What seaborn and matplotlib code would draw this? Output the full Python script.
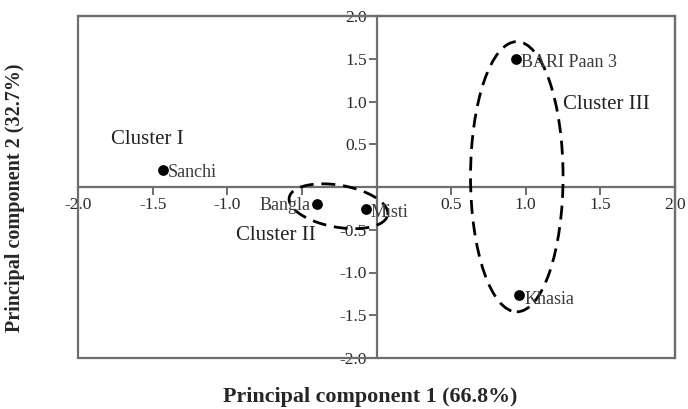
import matplotlib
matplotlib.use("Agg")
import matplotlib.pyplot as plt
from matplotlib.patches import Ellipse, Rectangle
import numpy as np
import seaborn as sns
import pandas as pd

# PCA scores of the betel leaf varieties
varieties = ["Sanchi", "Bangla", "Misti", "BARI Paan 3", "Khasia"]
pc1 = [-1.43, -0.40, -0.07, 0.935, 0.955]
pc2 = [0.20, -0.20, -0.26, 1.50, -1.26]

cluster_names = ["Cluster I", "Cluster II", "Cluster III"]
ticks = [-2.0, -1.5, -1.0, -0.5, 0.5, 1.0, 1.5, 2.0]
xtick_labels = ["-2.0", "-1.5", "-1.0", "", "0.5", "1.0", "1.5", "2.0"]
ytick_labels = ["-2.0", "-1.5", "-1.0", "-0.5", "0.5", "1.0", "1.5", "2.0"]

sns.set_style("white")
plt.rcParams["font.family"] = ["Liberation Serif", "DejaVu Serif"]

df = pd.DataFrame({"variety": varieties, "pc1": pc1, "pc2": pc2})

fig = plt.figure(figsize=(6.88, 4.09), dpi=100)
ax = fig.add_axes([78 / 688, 1 - 358 / 409, (675 - 78) / 688, (358 - 16) / 409])

sns.scatterplot(data=df, x="pc1", y="pc2", ax=ax, color="black", s=60,
                edgecolor="black", linewidth=0, zorder=5, legend=False)

ax.set_xlim(-2, 2)
ax.set_ylim(-2, 2)

grey = "#6e6e6e"
# axes crossing at the origin
for side in ("left", "bottom"):
    ax.spines[side].set_position(("data", 0))
    ax.spines[side].set_color(grey)
    ax.spines[side].set_linewidth(1.6)
for side in ("top", "right"):
    ax.spines[side].set_color(grey)
    ax.spines[side].set_linewidth(1.6)
# outer frame
ax.add_patch(Rectangle((0, 0), 1, 1, transform=ax.transAxes, fill=False,
                       edgecolor=grey, linewidth=1.6, clip_on=False, zorder=1))

ax.set_xticks(ticks)
ax.set_yticks(ticks)
ax.set_xticklabels(xtick_labels)
ax.set_yticklabels(ytick_labels)
ax.tick_params(axis="both", direction="out", length=6, width=1.4, color=grey,
               labelsize=12.5, pad=1, labelcolor="#2a2a2a")
ax.xaxis.set_ticks_position("bottom")
ax.yaxis.set_ticks_position("left")

# variety labels
offsets = {
    "Sanchi": (0.03, -0.03, "left"),
    "Bangla": (-0.04, -0.02, "right"),
    "Misti": (0.03, -0.04, "left"),
    "BARI Paan 3": (0.035, -0.04, "left"),
    "Khasia": (0.04, -0.05, "left"),
}
for name, x, y in zip(varieties, pc1, pc2):
    dx, dy, ha = offsets[name]
    ax.text(x + dx, y + dy, name, fontsize=13, ha=ha, va="center",
            color="#3a3a3a", zorder=6)

# cluster outlines
dash = (0, (5, 2.8))
# Cluster II: tilted ellipse, built in screen proportions then mapped to data units
t = np.linspace(0, 2 * np.pi, 300)
px_x, px_y = 149.25, 85.5
ang = np.deg2rad(-10)
ex_px = 50 * np.cos(t) * np.cos(ang) - 21 * np.sin(t) * np.sin(ang)
ey_px = 50 * np.cos(t) * np.sin(ang) + 21 * np.sin(t) * np.cos(ang)
ax.plot(-0.255 + ex_px / px_x, -0.225 + ey_px / px_y, color="black",
        linewidth=2, linestyle=dash, zorder=4)
# Cluster III
ax.add_patch(Ellipse((0.94, 0.12), 0.62, 3.16, fill=False, edgecolor="black",
                     linewidth=2, linestyle=dash, zorder=4))

cluster_pos = [(-1.78, 0.55), (-0.94, -0.57), (1.25, 0.96)]
for label, (x, y) in zip(cluster_names, cluster_pos):
    ax.text(x, y, label, fontsize=15, ha="left", va="center", color="#222222")

ax.set_xlabel("Principal component 1 (66.8%)", fontsize=15.8, fontweight="bold")
ax.set_ylabel("Principal component 2 (32.7%)", fontsize=14.5, fontweight="bold")
ax.xaxis.set_label_coords(0.49, -0.085)
ax.yaxis.set_label_coords(-0.088, 0.47)

fig.savefig("out.png", dpi=100)
